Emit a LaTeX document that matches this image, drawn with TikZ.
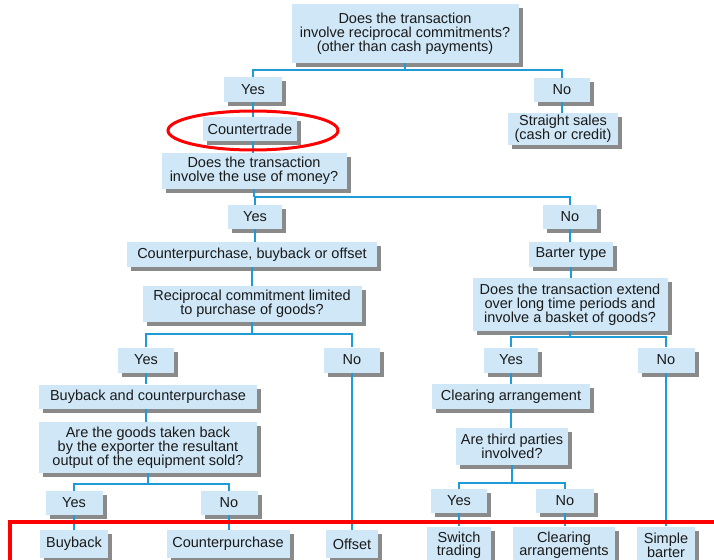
\documentclass[tikz,border=0pt]{standalone}
\usepackage{fontspec}
\setmainfont{Liberation Sans}
\usetikzlibrary{shadows}
\definecolor{boxfill}{HTML}{CFE7F6}
\definecolor{linec}{HTML}{1E9CD8}
\definecolor{shadowc}{HTML}{8A8A8A}
\definecolor{textc}{HTML}{1A1A1A}
\begin{document}
\begin{tikzpicture}[x=1pt,y=-1pt,
  bx/.style={fill=boxfill, inner sep=0pt, align=center, text=textc,
    font=\fontsize{14.5}{14}\selectfont,
    drop shadow={shadow xshift=4pt, shadow yshift=-4pt, fill=shadowc, opacity=1}},
  tight/.style={font=\fontsize{14.5}{13.2}\selectfont},
  conn/.style={draw=linec, line width=1.8pt},
  hl/.style={draw=red, line width=3.5pt}
]
\useasboundingbox (0,0) rectangle (714,559);
\clip (0,0) rectangle (714,559);
\fill[white] (0,0) rectangle (714,559);

% level 1
\node[bx, minimum width=227pt, minimum height=59pt] (q1) at (405,33.5) {Does the transaction\\involve reciprocal commitments?\\(other than cash payments)};
\node[bx, minimum width=58pt, minimum height=25pt] (y1) at (253,89.5) {Yes};
\node[bx, minimum width=56pt, minimum height=24pt] (n1) at (562,90) {No};
\node[bx, minimum width=94pt, minimum height=24pt] (ct) at (250,129) {Countertrade};
\node[bx, minimum width=110pt, minimum height=32pt] (ss) at (563,129) {Straight sales\\(cash or credit)};
\node[bx, minimum width=185pt, minimum height=36pt] (q2) at (254,171) {Does the transaction\\involve the use of money?};

% level 2
\node[bx, minimum width=54pt, minimum height=24pt] (y2) at (255,217) {Yes};
\node[bx, minimum width=54pt, minimum height=24pt] (n2) at (570,217) {No};
\node[bx, minimum width=250pt, minimum height=25pt] (cbo) at (252,254.5) {Counterpurchase, buyback or offset};
\node[bx, minimum width=84pt, minimum height=25pt] (bt) at (571,254.5) {Barter type};
\node[bx, minimum width=219pt, minimum height=36pt] (q3) at (252,304) {Reciprocal commitment limited\\to purchase of goods?};
\node[bx, minimum width=195pt, minimum height=53pt] (q4) at (570,304.5) {Does the transaction extend\\over long time periods and\\involve a basket of goods?};

% level 3
\node[bx, minimum width=56pt, minimum height=25pt] (y3) at (146,360) {Yes};
\node[bx, minimum width=56pt, minimum height=25pt] (n3) at (352,360) {No};
\node[bx, minimum width=54pt, minimum height=25pt] (y4) at (511,360) {Yes};
\node[bx, minimum width=57pt, minimum height=25pt] (n4) at (666,360) {No};
\node[bx, minimum width=218pt, minimum height=24pt] (bc) at (148,396.5) {Buyback and counterpurchase};
\node[bx, minimum width=158pt, minimum height=25pt] (ca) at (511,396.5) {Clearing arrangement};
\node[bx, minimum width=218pt, minimum height=51pt] (q5) at (148,447.5) {Are the goods taken back\\by the exporter the resultant\\output of the equipment sold?};
\node[bx, minimum width=112pt, minimum height=37pt] (q6) at (512,446.5) {Are third parties\\involved?};

% level 4
\node[bx, minimum width=57pt, minimum height=24pt] (y5) at (74,503) {Yes};
\node[bx, minimum width=57pt, minimum height=24pt] (n5) at (229,503) {No};
\node[bx, minimum width=56pt, minimum height=24pt] (y6) at (459,501) {Yes};
\node[bx, minimum width=58pt, minimum height=24pt] (n6) at (565,501) {No};

% bottom row
\node[bx, minimum width=68pt, minimum height=28pt] (bb) at (74,544) {Buyback};
\node[bx, minimum width=123pt, minimum height=28pt] (cp) at (228,544) {Counterpurchase};
\node[bx, minimum width=52pt, minimum height=28pt] (of) at (352,544) {Offset};
\node[bx, tight, minimum width=64pt, minimum height=38pt] (st) at (459,545.5) {Switch\\trading};
\node[bx, tight, minimum width=102pt, minimum height=38pt] (cl) at (564,545.5) {Clearing\\arrangements};
\node[bx, tight, minimum width=58pt, minimum height=38pt] (sb) at (666,545.5) {Simple\\barter};

% connectors
\coordinate (b1) at (405,70);
\draw[conn] (q1.south) -- (b1);
\draw[conn] (y1.north) |- (b1) -| (n1.north);
\draw[conn] (y1.south) -- (y1.south |- ct.north);
\draw[conn] (n1.south) -- (n1.south |- ss.north);
\draw[conn] (y1.south |- ct.south) -- (y1.south |- q2.north);

\coordinate (b2) at (254,197);
\draw[conn] (q2.south) -- (b2);
\draw[conn] (y2.north) |- (b2) -| (n2.north);
\draw[conn] (y2.south) -- (y2.south |- cbo.north);
\draw[conn] (cbo.south) -- (cbo.south |- q3.north);
\draw[conn] (n2.south) -- (n2.south |- bt.north);
\draw[conn] (bt.south) -- (bt.south |- q4.north);

\coordinate (b3) at (252,334);
\draw[conn] (q3.south) -- (b3);
\draw[conn] (y3.north) |- (b3) -| (n3.north);
\coordinate (b4) at (570,337);
\draw[conn] (q4.south) -- (b4);
\draw[conn] (y4.north) |- (b4) -| (n4.north);

\draw[conn] (y3.south) -- (y3.south |- bc.north);
\draw[conn] (y3.south |- bc.south) -- (y3.south |- q5.north);
\draw[conn] (y4.south) -- (y4.south |- ca.north);
\draw[conn] (y4.south |- ca.south) -- (y4.south |- q6.north);

\coordinate (b5) at (148,484);
\draw[conn] (q5.south) -- (b5);
\draw[conn] (y5.north) |- (b5) -| (n5.north);
\coordinate (b6) at (512,483);
\draw[conn] (q6.south) -- (b6);
\draw[conn] (y6.north) |- (b6) -| (n6.north);

\draw[conn] (n3.south) -- (n3.south |- of.north);
\draw[conn] (n4.south) -- (n4.south |- sb.north);
\draw[conn] (y5.south) -- (y5.south |- bb.north);
\draw[conn] (n5.south) -- (n5.south |- cp.north);
\draw[conn] (y6.south) -- (y6.south |- st.north);
\draw[conn] (n6.south) -- (n6.south |- cl.north);

% highlights
\draw[draw=red, line width=3pt] (253,130.5) ellipse [x radius=85, y radius=19.5];
\draw[hl, line width=4pt] (10,522) rectangle (730,580);
\end{tikzpicture}
\end{document}
